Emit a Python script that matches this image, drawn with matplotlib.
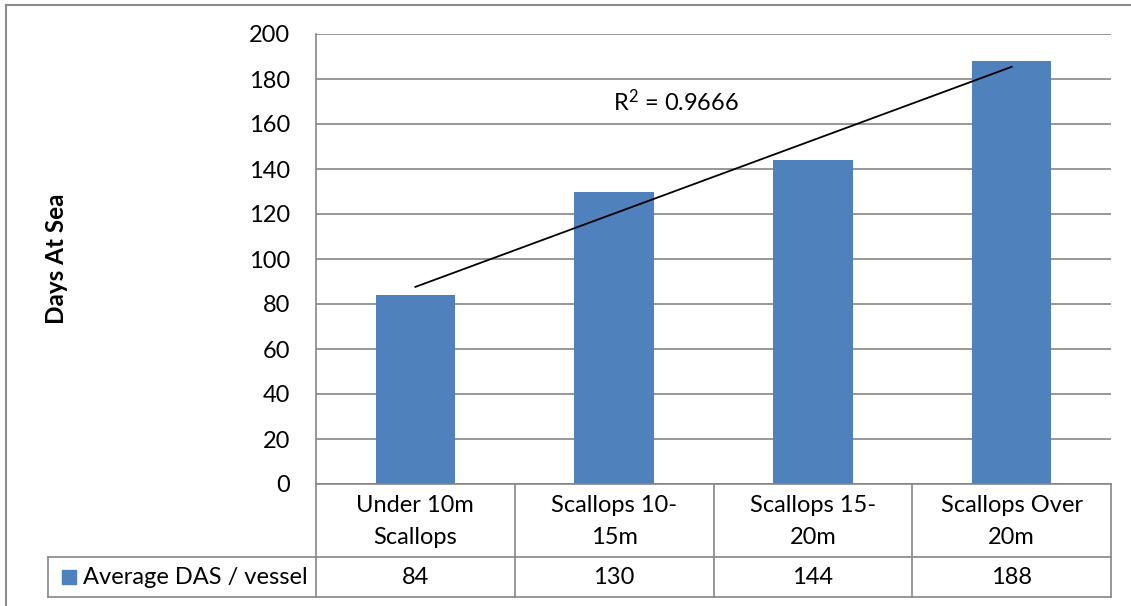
import matplotlib.pyplot as plt
import numpy as np

# --- data ---
categories = ['Under 10m\nScallops', 'Scallops 10-\n15m', 'Scallops 15-\n20m', 'Scallops Over\n20m']
series_name = 'Average DAS / vessel'
das_values = [84, 130, 144, 188]
r2_label = 'R$^{2}$ = 0.9666'

W, H = 1131, 606
BAR_COLOR = '#4F81BD'
GRID_COLOR = '#868686'
FONT = 'Lato'
FS = 17

plt.rcParams['font.family'] = [FONT, 'DejaVu Sans']
plt.rcParams['mathtext.fontset'] = 'custom'
plt.rcParams['mathtext.rm'] = FONT
plt.rcParams['mathtext.it'] = FONT
plt.rcParams['mathtext.default'] = 'rm'


def fx(x):
    return x / W


def fy(y):
    return 1 - y / H


fig = plt.figure(figsize=(W / 100, H / 100), dpi=100)

# plot area in pixels
L, R, T, B = 316, 1111, 34, 484
ax = fig.add_axes([fx(L), fy(B), (R - L) / W, (B - T) / H])

x = np.arange(len(das_values))
ax.bar(x, das_values, width=0.4, color=BAR_COLOR, zorder=3)

# linear trendline
coef = np.polyfit(x, das_values, 1)
ax.plot(x, np.polyval(coef, x), color='black', linewidth=1.3, zorder=4)
ax.text(1.31, 170, r2_label, ha='center', va='center', fontsize=FS)

ax.set_xlim(-0.5, len(das_values) - 0.5)
ax.set_ylim(0, 200)
ax.set_yticks(np.arange(0, 201, 20))
ax.set_xticks([])
ax.grid(True, axis='y', color=GRID_COLOR, linewidth=1.2, zorder=0)
ax.tick_params(axis='y', length=0, pad=18.5, labelsize=FS)
for s in ['top', 'right', 'bottom']:
    ax.spines[s].set_visible(False)
ax.spines['left'].set_color(GRID_COLOR)
ax.spines['left'].set_linewidth(1.2)

fig.text(fx(57), fy(259), 'Days At Sea', rotation=90, ha='center', va='center',
         fontsize=17.5, fontweight='bold')

# --- data table under the axis ---
col_edges = np.linspace(L, R, len(categories) + 1)
row_top, row_mid, row_bot = 484, 557, 597
tbl_left = 48


def hline(y, x0, x1):
    fig.add_artist(plt.Line2D([fx(x0), fx(x1)], [fy(y), fy(y)], color=GRID_COLOR, lw=1.2))


def vline(x0, y0, y1):
    fig.add_artist(plt.Line2D([fx(x0), fx(x0)], [fy(y0), fy(y1)], color=GRID_COLOR, lw=1.2))


hline(row_top, L, R)
hline(row_mid, tbl_left, R)
hline(row_bot, tbl_left, R)
vline(tbl_left, row_mid, row_bot)
for ce in col_edges:
    vline(ce, row_top, row_bot)

for i, (cat, val) in enumerate(zip(categories, das_values)):
    cx = (col_edges[i] + col_edges[i + 1]) / 2
    fig.text(fx(cx), fy((row_top + row_mid) / 2 + 1), cat, ha='center', va='center',
             fontsize=FS, linespacing=1.6)
    fig.text(fx(cx), fy((row_mid + row_bot) / 2), str(val), ha='center', va='center',
             fontsize=FS)

# legend key in table
fig.add_artist(plt.Rectangle((fx(62), fy(584)), 14 / W, 14 / H, color=BAR_COLOR))
fig.text(fx(83), fy((row_mid + row_bot) / 2), series_name, ha='left', va='center', fontsize=FS)

# outer chart border (partially cropped in the reference)
fig.add_artist(plt.Line2D([fx(6), fx(6)], [fy(5), 0], color='#8C8C8C', lw=1.5))
fig.add_artist(plt.Line2D([fx(6), 1], [fy(5), fy(5)], color='#8C8C8C', lw=1.5))

fig.savefig('out.png', dpi=100)
